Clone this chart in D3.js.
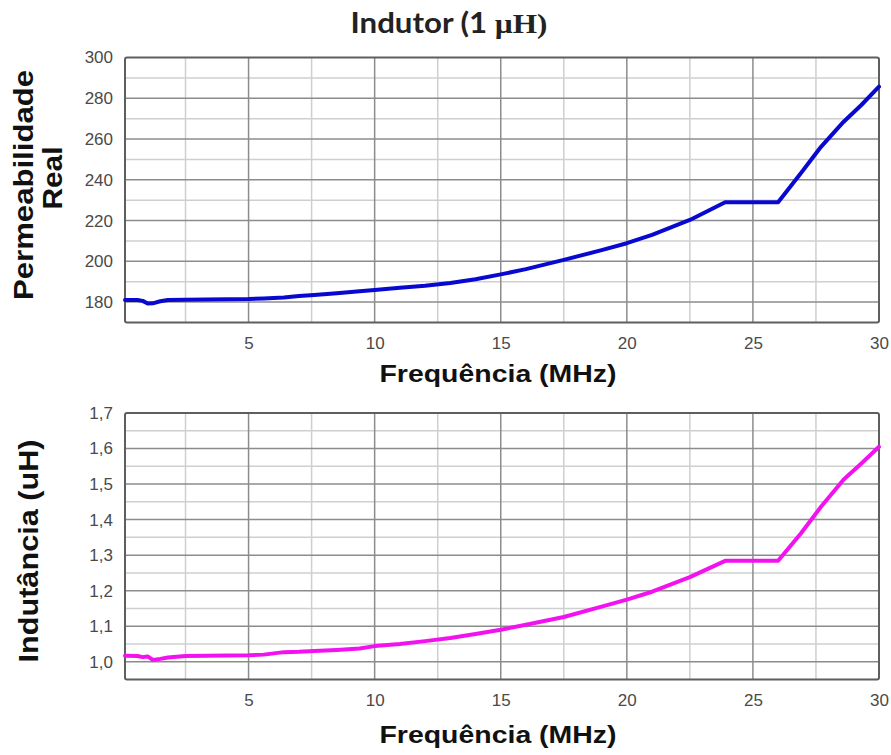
<!DOCTYPE html>
<html>
<head>
<meta charset="utf-8">
<script src="https://cdn.jsdelivr.net/npm/d3@7"></script>
<style>
  html, body { margin: 0; padding: 0; background: #fff; }
  svg { display: block; }
</style>
</head>
<body>
<div id="chart"></div>
<script>
// ---- data ----
const freq = [0.1, 0.6, 0.8, 1.0, 1.2, 1.5, 1.8, 2.5, 5.0, 5.6, 6.4, 7.0, 7.6, 8.5, 9.4, 10.0, 11.0, 12.0, 13.0, 14.0, 15.0, 16.0, 17.5, 19.0, 20.0, 21.0, 22.5, 23.9, 26.0, 26.9, 27.7, 28.6, 29.3, 30.0];
const permeabilidade = [181.0, 181.0, 180.6, 179.3, 179.4, 180.4, 181.0, 181.1, 181.5, 181.8, 182.3, 183.0, 183.5, 184.4, 185.3, 186.0, 187.0, 188.0, 189.4, 191.2, 193.6, 196.2, 200.7, 205.5, 208.9, 213.0, 220.3, 229.0, 229.0, 243.2, 256.2, 268.5, 276.7, 285.7];
const indutancia = [1.017, 1.016, 1.013, 1.015, 1.005, 1.008, 1.012, 1.016, 1.018, 1.020, 1.027, 1.028, 1.030, 1.033, 1.037, 1.044, 1.050, 1.058, 1.067, 1.078, 1.090, 1.104, 1.126, 1.155, 1.175, 1.197, 1.238, 1.284, 1.284, 1.361, 1.436, 1.513, 1.558, 1.605];

const xTicks = [5, 10, 15, 20, 25, 30];
const xMinor = [2.5, 7.5, 12.5, 17.5, 22.5, 27.5];
const yTicksTop = [180, 200, 220, 240, 260, 280, 300];
const yMinorTop = [190, 210, 230, 250, 270, 290];
const yTicksBot = [1.0, 1.1, 1.2, 1.3, 1.4, 1.5, 1.6, 1.7];
const yMinorBot = [1.05, 1.15, 1.25, 1.35, 1.45, 1.55, 1.65];

const title = "Indutor (1 ";
const titleUnit = "µH)";
const xTitle = "Frequência (MHz)";
const yTitleTop = ["Permeabilidade", "Real"];
const yTitleBot = "Indutância (uH)";

// ---- layout ----
const W = 891, H = 755;
const svg = d3.select("#chart").append("svg").attr("width", W).attr("height", H);

const plotLeft = 125, plotRight = 879;
const x = d3.scaleLinear().domain([0.1, 30]).range([plotLeft, plotRight]);

const panels = [
  { top: 57.5, bottom: 322.5, domain: [170, 300], ticks: yTicksTop, minor: yMinorTop,
    values: permeabilidade, color: "#0808d0", fmt: d => d3.format("d")(d) },
  { top: 413, bottom: 679.5, domain: [0.95, 1.7], ticks: yTicksBot, minor: yMinorBot,
    values: indutancia, color: "#f212f0", fmt: d => d3.format(".1f")(d).replace(".", ",") }
];

const sansB = "'Liberation Sans', Arial, sans-serif";

panels.forEach((p, i) => {
  const y = d3.scaleLinear().domain(p.domain).range([p.bottom, p.top]);
  const g = svg.append("g");

  // minor grid
  g.selectAll("line.vminor").data(xMinor).join("line")
    .attr("x1", d => x(d)).attr("x2", d => x(d)).attr("y1", p.top).attr("y2", p.bottom)
    .attr("stroke", "#cfcfcf").attr("stroke-width", 1.5);
  g.selectAll("line.hminor").data(p.minor).join("line")
    .attr("x1", plotLeft).attr("x2", plotRight).attr("y1", d => y(d)).attr("y2", d => y(d))
    .attr("stroke", "#cfcfcf").attr("stroke-width", 1.5);
  // major grid
  g.selectAll("line.vmajor").data(xTicks.filter(d => d < 30)).join("line")
    .attr("x1", d => x(d)).attr("x2", d => x(d)).attr("y1", p.top).attr("y2", p.bottom)
    .attr("stroke", "#8c8c8c").attr("stroke-width", 1.5);
  g.selectAll("line.hmajor").data(p.ticks.filter(d => d > p.domain[0] && d < p.domain[1])).join("line")
    .attr("x1", plotLeft).attr("x2", plotRight).attr("y1", d => y(d)).attr("y2", d => y(d))
    .attr("stroke", "#8c8c8c").attr("stroke-width", 1.5);

  // frame
  g.append("rect").attr("x", plotLeft).attr("y", p.top)
    .attr("width", plotRight - plotLeft).attr("height", p.bottom - p.top)
    .attr("rx", 2).attr("fill", "none").attr("stroke", "#5e5e5e").attr("stroke-width", 2);

  // y axis labels
  const yAxis = d3.axisLeft(y).tickValues(p.ticks).tickSize(0).tickPadding(12).tickFormat(p.fmt);
  const ya = svg.append("g").attr("transform", `translate(${plotLeft},0)`).call(yAxis);
  ya.select(".domain").remove();
  ya.selectAll("text").attr("font-family", "Arial, 'Liberation Sans', sans-serif")
    .attr("font-size", 17).attr("fill", "#4a4a4a");

  // x axis labels
  const xAxis = d3.axisBottom(x).tickValues(xTicks).tickSize(0).tickPadding(14).tickFormat(d3.format("d"));
  const xa = svg.append("g").attr("transform", `translate(0,${p.bottom})`).call(xAxis);
  xa.select(".domain").remove();
  xa.selectAll("text").attr("font-family", "Arial, 'Liberation Sans', sans-serif")
    .attr("font-size", 17).attr("fill", "#4a4a4a");

  // line
  const line = d3.line().x((d, k) => x(freq[k])).y(d => y(d)).curve(d3.curveLinear);
  g.append("path").datum(p.values).attr("d", line)
    .attr("fill", "none").attr("stroke", p.color).attr("stroke-width", 4)
    .attr("stroke-linejoin", "round").attr("stroke-linecap", "round");

  // x title
  svg.append("text").attr("x", 498).attr("y", p.bottom + (i === 0 ? 59 : 63))
    .attr("text-anchor", "middle").attr("font-family", sansB).attr("font-weight", "bold")
    .attr("font-size", 23).attr("textLength", 237).attr("lengthAdjust", "spacingAndGlyphs")
    .attr("fill", "#111").text(xTitle);
});

// y titles
svg.append("text").attr("transform", "translate(33,185) rotate(-90)")
  .attr("text-anchor", "middle").attr("font-family", sansB).attr("font-weight", "bold")
  .attr("font-size", 28).attr("textLength", 230).attr("lengthAdjust", "spacingAndGlyphs")
  .attr("fill", "#111").text(yTitleTop[0]);
svg.append("text").attr("transform", "translate(62,178) rotate(-90)")
  .attr("text-anchor", "middle").attr("font-family", sansB).attr("font-weight", "bold")
  .attr("font-size", 28).attr("textLength", 63).attr("lengthAdjust", "spacingAndGlyphs")
  .attr("fill", "#111").text(yTitleTop[1]);
svg.append("text").attr("transform", "translate(38,551) rotate(-90)")
  .attr("text-anchor", "middle").attr("font-family", sansB).attr("font-weight", "bold")
  .attr("font-size", 27).attr("textLength", 223).attr("lengthAdjust", "spacingAndGlyphs")
  .attr("fill", "#111").text(yTitleBot);

// main title
const t = svg.append("text").attr("x", 449).attr("y", 33).attr("text-anchor", "middle")
  .attr("font-family", "Lato, 'Open Sans', sans-serif").attr("font-weight", "bold")
  .attr("font-size", 28).attr("fill", "#222")
  .attr("textLength", 197).attr("lengthAdjust", "spacingAndGlyphs");
t.append("tspan").text(title);
t.append("tspan").attr("font-family", "'Liberation Serif', 'DejaVu Serif', serif").text(titleUnit);
</script>
</body>
</html>
